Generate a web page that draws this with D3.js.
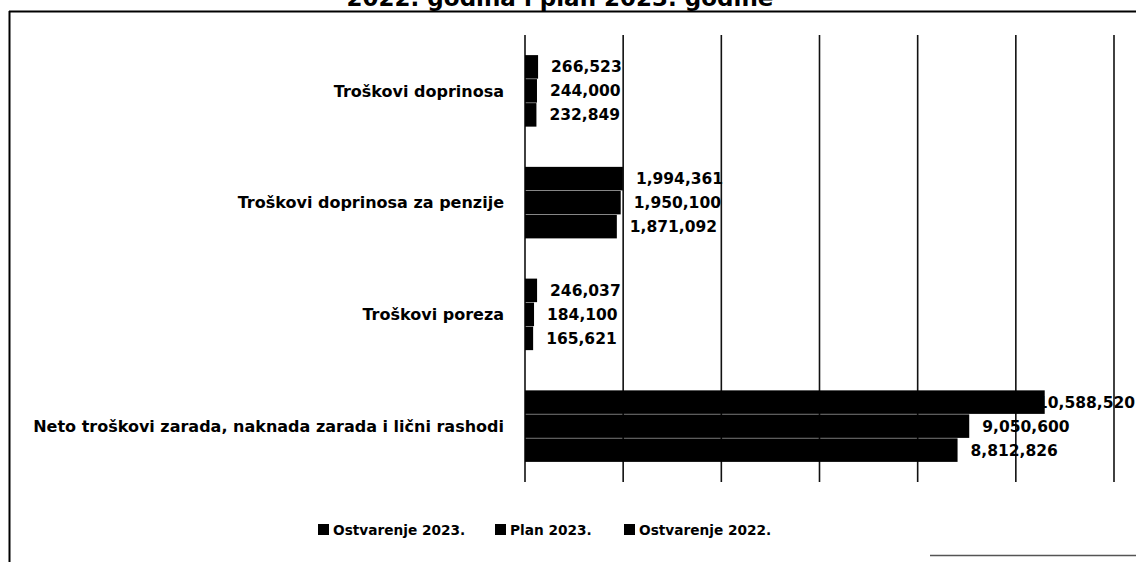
<!DOCTYPE html>
<html>
<head>
<meta charset="utf-8">
<script src="https://cdn.jsdelivr.net/npm/d3@7"></script>
<style>
  body { margin: 0; background: #fff; }
  text { font-family: "DejaVu Sans", sans-serif; font-weight: bold; fill: #000; }
</style>
</head>
<body>
<div class="chart"></div>
<script>
'use strict';

var categories = ["Troškovi doprinosa", "Troškovi doprinosa za penzije", "Troškovi poreza",
                  "Neto troškovi zarada, naknada zarada i lični rashodi"];
var seriesNames = ["Ostvarenje 2023.", "Plan 2023.", "Ostvarenje 2022."];
var ostvarenje2023 = [266523, 1994361, 246037, 10588520];
var plan2023 = [244000, 1950100, 184100, 9050600];
var ostvarenje2022 = [232849, 1871092, 165621, 8812826];
var gridTicks = [0, 2000000, 4000000, 6000000, 8000000, 10000000, 12000000];

var width = 1136, height = 562;
var plot = {left: 525, right: 1114, top: 35, bottom: 482};

var svg = d3.select(".chart").append("svg")
            .attr("width", width).attr("height", height);

// title, cut off at the top edge like the scan
svg.append("text")
   .attr("x", 560).attr("y", 6)
   .attr("text-anchor", "middle")
   .style("font-size", "23px")
   .text("2022. godina i plan 2023. godine");

// frame
svg.append("line").attr("x1", 9).attr("x2", width).attr("y1", 11.5).attr("y2", 11.5)
   .attr("stroke", "#000").attr("stroke-width", 2);
svg.append("line").attr("x1", 9.5).attr("x2", 9.5).attr("y1", 11).attr("y2", height)
   .attr("stroke", "#000").attr("stroke-width", 2);
svg.append("line").attr("x1", 930).attr("x2", width).attr("y1", 555.5).attr("y2", 555.5)
   .attr("stroke", "#555").attr("stroke-width", 1.5);

var x = d3.scaleLinear().domain([0, 12000000]).range([plot.left, plot.right]);
var y0 = d3.scaleBand().domain(categories).range([plot.top, plot.bottom]).paddingInner(0.36).paddingOuter(0.18);
var y1 = d3.scaleBand().domain(seriesNames).range([0, y0.bandwidth()]).paddingInner(0.02);

// grid lines
svg.append("g").selectAll("line")
   .data(gridTicks).enter().append("line")
   .attr("x1", function(d){ return x(d); })
   .attr("x2", function(d){ return x(d); })
   .attr("y1", plot.top).attr("y2", plot.bottom)
   .attr("stroke", "#111").attr("stroke-width", 1.6);

var seriesValues = [ostvarenje2023, plan2023, ostvarenje2022];
var rows = [];
categories.forEach(function(c, i){
      seriesNames.forEach(function(s, j){
            rows.push({cat: c, series: s, value: seriesValues[j][i]});
      });
});

var bars = svg.append("g").selectAll("g")
              .data(rows).enter().append("g")
              .attr("transform", function(d){ return "translate(0," + (y0(d.cat) + y1(d.series)) + ")"; });

bars.append("rect")
    .attr("x", x(0))
    .attr("width", function(d){ return x(d.value) - x(0); })
    .attr("height", y1.bandwidth())
    .attr("fill", "#000");

// value labels, pulled back inside the chart when they would run off the edge
bars.append("text")
    .attr("y", y1.bandwidth() / 2)
    .attr("dy", "0.36em")
    .style("font-size", "15.5px")
    .text(function(d){ return d3.format(",")(d.value); })
    .attr("x", function(d){
          var w = this.getComputedTextLength();
          return Math.min(x(d.value) + 13, 1135 - w);
    });

// category labels
svg.append("g").selectAll("text")
   .data(categories).enter().append("text")
   .attr("x", 504)
   .attr("y", function(d){ return y0(d) + y0.bandwidth() / 2; })
   .attr("dy", "0.36em")
   .attr("text-anchor", "end")
   .style("font-size", "16px")
   .text(function(d){ return d; });

// legend
var legendX = [318, 495, 624];
var legend = svg.append("g").selectAll("g")
                .data(seriesNames).enter().append("g")
                .attr("transform", function(d, i){ return "translate(" + legendX[i] + ",530)"; });
legend.append("rect").attr("x", 0).attr("y", -6).attr("width", 11).attr("height", 11).attr("fill", "#000");
legend.append("text").attr("x", 15).attr("dy", "0.36em")
      .style("font-size", "13.7px")
      .text(function(d){ return d; });
</script>
</body>
</html>
